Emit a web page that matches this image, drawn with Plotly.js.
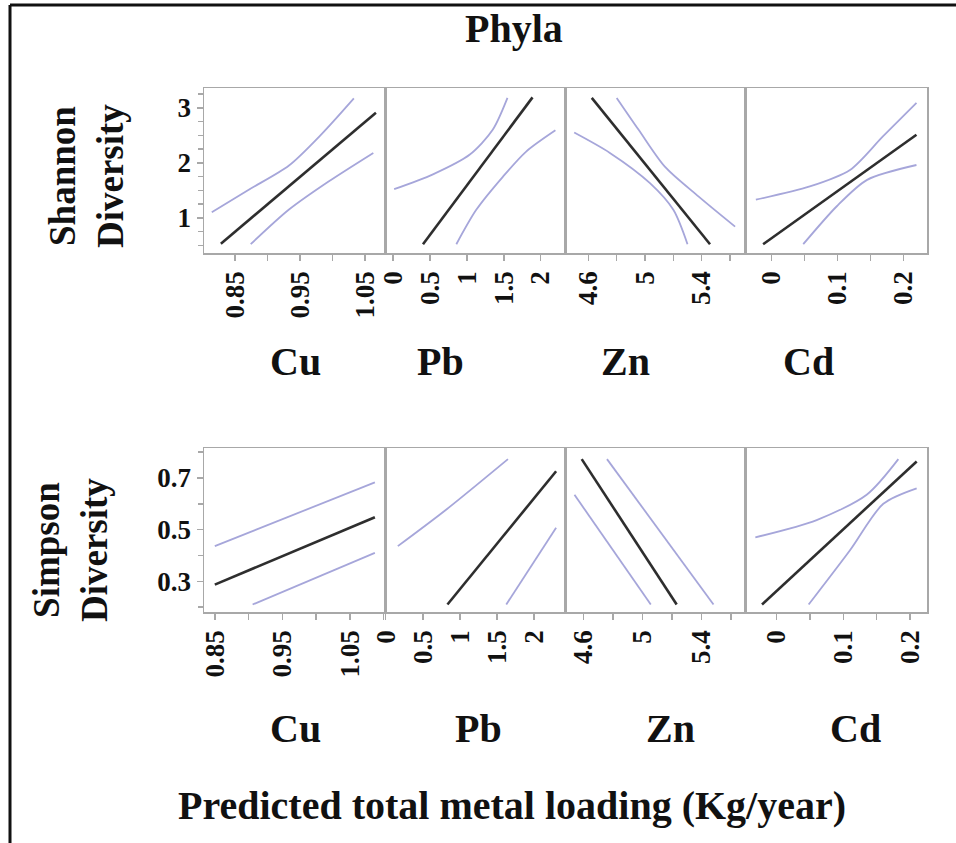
<!DOCTYPE html>
<html>
<head>
<meta charset="utf-8">
<script src="https://cdn.plot.ly/plotly-3.0.1.min.js"></script>
<style>html,body{margin:0;padding:0;background:#fff;}#chart{width:956px;height:843px;}</style>
</head>
<body>
<div id="chart"></div>
<script>
// ---------- data ----------
const metals = ["Cu", "Pb", "Zn", "Cd"];
const chartTitle = "Phyla";
const rowTitles = ["Shannon<br>Diversity", "Simpson<br>Diversity"];
const xTitle = "Predicted total metal loading (Kg/year)";

// Shannon diversity
const shCuFitX = [0.828, 1.067], shCuFitY = [0.53, 2.91];
const shCuUpX = [0.814, 0.871, 0.933, 0.984, 1.033], shCuUpY = [1.10, 1.51, 1.95, 2.53, 3.17];
const shCuLoX = [0.874, 0.933, 0.994, 1.063], shCuLoY = [0.52, 1.15, 1.66, 2.18];

const shPbFitX = [0.405, 1.89], shPbFitY = [0.52, 3.19];
const shPbUpX = [0.014, 0.54, 1.04, 1.35, 1.55], shPbUpY = [1.52, 1.79, 2.15, 2.60, 3.18];
const shPbLoX = [0.857, 1.127, 1.49, 1.80, 2.20], shPbLoY = [0.52, 1.145, 1.75, 2.20, 2.59];

const shZnFitX = [4.624, 5.459], shZnFitY = [3.18, 0.52];
const shZnUpX = [4.80, 4.955, 5.14, 5.377, 5.636], shZnUpY = [3.18, 2.60, 1.93, 1.39, 0.84];
const shZnLoX = [4.50, 4.752, 5.035, 5.20, 5.30], shZnLoY = [2.55, 2.18, 1.63, 1.145, 0.52];

const shCdFitX = [-0.013, 0.22], shCdFitY = [0.52, 2.51];
const shCdUpX = [-0.024, 0.058, 0.119, 0.169, 0.22], shCdUpY = [1.33, 1.57, 1.87, 2.48, 3.09];
const shCdLoX = [0.048, 0.099, 0.145, 0.22], shCdLoY = [0.52, 1.21, 1.69, 1.96];

// Simpson diversity
const siCuFitX = [0.85, 1.087], siCuFitY = [0.287, 0.548];
const siCuUpX = [0.85, 1.087], siCuUpY = [0.436, 0.683];
const siCuLoX = [0.906, 1.087], siCuLoY = [0.21, 0.41];

const siPbFitX = [0.833, 2.30], siPbFitY = [0.21, 0.726];
const siPbUpX = [0.163, 0.81, 1.65], siPbUpY = [0.436, 0.576, 0.773];
const siPbLoX = [1.627, 2.30], siPbLoY = [0.21, 0.507];

const siZnFitX = [4.589, 5.231], siZnFitY = [0.773, 0.21];
const siZnUpX = [4.76, 5.48], siZnUpY = [0.773, 0.21];
const siZnLoX = [4.54, 5.056], siZnLoY = [0.635, 0.21];

const siCdFitX = [-0.022, 0.21], siCdFitY = [0.21, 0.764];
const siCdUpX = [-0.032, 0.06, 0.135, 0.1825], siCdUpY = [0.47, 0.537, 0.635, 0.773];
const siCdLoX = [0.048, 0.11, 0.16, 0.21], siCdLoY = [0.21, 0.42, 0.60, 0.66];

// axis ranges and ticks
const shYRange = [0.36, 3.36], siYRange = [0.181, 0.816];
const shXRanges = [[0.802, 1.081], [-0.11, 2.33], [4.435, 5.706], [-0.0405, 0.236]];
const siXRanges = [[0.834, 1.102], [-0.01, 2.42], [4.476, 5.693], [-0.0475, 0.2255]];
const xTick0 = [0.85, 0, 4.6, 0];
const xDtick = [0.1, 0.5, 0.4, 0.1];
const xMinor = [0.05, null, 0.2, 0.05];

// ---------- drawing ----------
const W = 956, H = 843;
const SERIF = "Liberation Serif, Times New Roman, serif";
const FIT = "#2e2e2e", CI = "#a6a6da", FRAME = "#a8a8a8";
const TICKSIZE = 27;

const panels = [
  [shCuFitX, shCuFitY, shCuUpX, shCuUpY, shCuLoX, shCuLoY],
  [shPbFitX, shPbFitY, shPbUpX, shPbUpY, shPbLoX, shPbLoY],
  [shZnFitX, shZnFitY, shZnUpX, shZnUpY, shZnLoX, shZnLoY],
  [shCdFitX, shCdFitY, shCdUpX, shCdUpY, shCdLoX, shCdLoY],
  [siCuFitX, siCuFitY, siCuUpX, siCuUpY, siCuLoX, siCuLoY],
  [siPbFitX, siPbFitY, siPbUpX, siPbUpY, siPbLoX, siPbLoY],
  [siZnFitX, siZnFitY, siZnUpX, siZnUpY, siZnLoX, siZnLoY],
  [siCdFitX, siCdFitY, siCdUpX, siCdUpY, siCdLoX, siCdLoY]
];

const colPx = [[204, 385], [385, 565], [565, 745], [745, 927]];
const rowPx = [[88, 253], [448, 612]];

const traces = [];
const layout = {
  width: W, height: H,
  margin: {l: 0, r: 0, t: 0, b: 0},
  paper_bgcolor: "#ffffff", plot_bgcolor: "#ffffff",
  showlegend: false,
  font: {family: SERIF, color: "#111"},
  annotations: [], shapes: []
};

panels.forEach((p, i) => {
  const n = i + 1;
  const suf = n === 1 ? "" : String(n);
  const xa = "x" + suf, ya = "y" + suf;
  const row = Math.floor(i / 4), col = i % 4;
  const lineCI = {color: CI, width: 1.8, shape: "spline", smoothing: 0.8};
  traces.push({x: p[2], y: p[3], xaxis: xa, yaxis: ya, mode: "lines", line: lineCI, hoverinfo: "skip"});
  traces.push({x: p[4], y: p[5], xaxis: xa, yaxis: ya, mode: "lines", line: lineCI, hoverinfo: "skip"});
  traces.push({x: p[0], y: p[1], xaxis: xa, yaxis: ya, mode: "lines", line: {color: FIT, width: 2.6}, hoverinfo: "skip"});

  const xr = row === 0 ? shXRanges[col] : siXRanges[col];
  const xax = {
    domain: [colPx[col][0] / W, colPx[col][1] / W],
    range: xr, anchor: ya,
    showline: true, mirror: true, linecolor: FRAME, linewidth: 1.5,
    showgrid: false, zeroline: false,
    ticks: "outside", ticklen: 6, tickcolor: FRAME, tickwidth: 1.5,
    tick0: xTick0[col], dtick: xDtick[col],
    tickangle: -90,
    tickfont: {family: SERIF, size: TICKSIZE, color: "#111", weight: "bold"}
  };
  if (xMinor[col]) {
    xax.minor = {dtick: xMinor[col], tick0: xTick0[col], ticks: "outside", ticklen: 6, tickcolor: FRAME, tickwidth: 1.5, showgrid: false};
  }
  const yax = {
    domain: [1 - rowPx[row][1] / H, 1 - rowPx[row][0] / H],
    range: row === 0 ? shYRange : siYRange, anchor: xa,
    showline: true, mirror: true, linecolor: FRAME, linewidth: 1.5,
    showgrid: false, zeroline: false
  };
  if (col === 0) {
    Object.assign(yax, {
      ticks: "outside", ticklen: 6, tickcolor: FRAME, tickwidth: 1.5,
      dtick: row === 0 ? 1 : 0.2, tick0: row === 0 ? 0 : 0.1,
      tickformat: row === 0 ? "d" : ".1f",
      tickfont: {family: SERIF, size: TICKSIZE, color: "#111", weight: "bold"},
      minor: {dtick: row === 0 ? 0.25 : 0.1, tick0: 0, ticks: "outside", ticklen: 5, tickcolor: FRAME, tickwidth: 1.5, showgrid: false}
    });
  } else {
    Object.assign(yax, {ticks: "", showticklabels: false});
  }
  layout["xaxis" + suf] = xax;
  layout["yaxis" + suf] = yax;
});

// text labels
const ann = (text, px, py, size, angle) => ({
  text: text, xref: "paper", yref: "paper",
  x: px / W, y: 1 - py / H, xanchor: "center", yanchor: "middle",
  showarrow: false, textangle: angle || 0,
  font: {family: SERIF, size: size, color: "#111", weight: "bold"}
});
layout.annotations.push(ann(chartTitle, 514, 28, 40));
layout.annotations.push(ann(rowTitles[0], 86, 176, 37, -90));
layout.annotations.push(ann(rowTitles[1], 70, 550, 37, -90));
const topLabelX = [295, 440, 625, 808];
const botLabelX = [295, 478, 670, 855];
metals.forEach((m, k) => {
  layout.annotations.push(ann(m, topLabelX[k], 361, 40));
  layout.annotations.push(ann(m, botLabelX[k], 728, 40));
});
layout.annotations.push(ann(xTitle, 512, 805, 40));

// outer frame (left and top edges)
layout.shapes.push({type: "line", xref: "paper", yref: "paper", x0: 10 / W, x1: 10 / W, y0: 0, y1: 1 - 5 / H, line: {color: "#111", width: 3}});
layout.shapes.push({type: "line", xref: "paper", yref: "paper", x0: 10 / W, x1: 1, y0: 1 - 5 / H, y1: 1 - 5 / H, line: {color: "#111", width: 3}});

Plotly.newPlot("chart", traces, layout, {displayModeBar: false, staticPlot: true});
</script>
</body>
</html>
